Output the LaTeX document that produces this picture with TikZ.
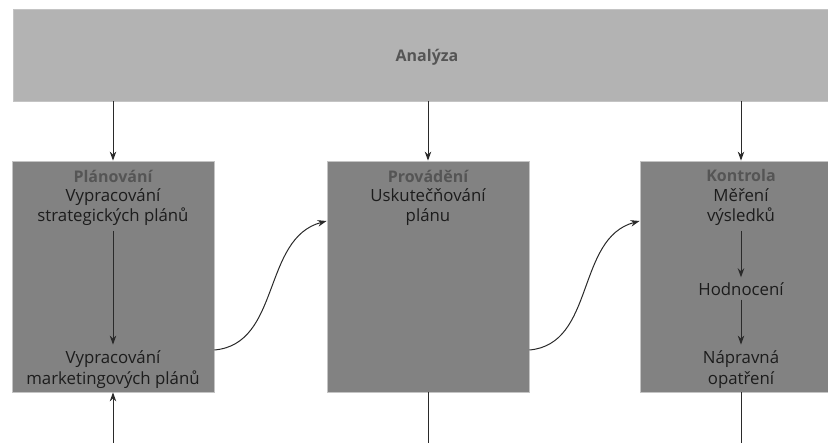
\documentclass[tikz,border=0pt]{standalone}
\usepackage{fontspec}
\setmainfont{Open Sans}
\usepackage{tikz}
\usetikzlibrary{arrows.meta,positioning,calc}
\definecolor{analgray}{HTML}{B3B3B3}
\definecolor{boxgray}{HTML}{828282}
\definecolor{framegray}{HTML}{C4C4C4}
\definecolor{titlegray}{HTML}{555555}
\definecolor{textdark}{HTML}{1C1C1C}
\definecolor{linedark}{HTML}{2A2A2A}

\begin{document}
\begin{tikzpicture}[x=1pt,y=-1pt,
  panel/.style={rectangle,draw=framegray,line width=0.8pt,fill=boxgray,
                minimum width=202pt,minimum height=231pt,inner sep=0pt},
  titel/.style={font=\fontsize{16}{20.5}\selectfont\bfseries,text=titlegray,inner sep=2pt},
  krok/.style={font=\fontsize{16.8}{20.5}\selectfont,text=textdark,align=center,inner sep=3pt},
  pfeil/.style={draw=linedark,line width=1pt,-{Stealth[length=9pt,width=6.5pt]}},
  vedeni/.style={draw=linedark,line width=1pt}]

  \useasboundingbox (0,0) rectangle (828,443);

  \node[rectangle,draw=framegray,line width=0.8pt,fill=analgray,
        minimum width=840pt,minimum height=92pt]
       (analyza) at (433,55) {};
  \node[font=\fontsize{16}{20}\selectfont\bfseries,text=titlegray] (analyzaT) at (427,57) {Analýza};

  \node[panel] (plan) at (113,276.5) {};
  \node[panel] (prov) at (428,276.5) {};
  \node[panel] (kontr) at (741,276.5) {};

  \node[titel] (planT) at (113,176) {Plánování};
  \node[krok] (strat) at (113,207) {Vypracování\\strategických plánů};
  \node[krok] (mark) at (113,369.5) {Vypracování\\marketingových plánů};

  \node[titel] (provT) at (428,176) {Provádění};
  \node[krok] (usk) at (428,207) {Uskutečňování\\plánu};

  \node[titel] (kontrT) at (741,176) {Kontrola};
  \node[krok] (mereni) at (741,207) {Měření\\výsledků};
  \node[krok] (hodn) at (741,289) {Hodnocení};
  \node[krok] (naprava) at (741,369.5) {Nápravná\\opatření};

  \draw[pfeil] (analyza.south -| plan.north) -- (plan.north);
  \draw[pfeil] (analyza.south -| prov.north) -- (prov.north);
  \draw[pfeil] (analyza.south -| kontr.north) -- (kontr.north);

  \draw[pfeil,shorten <=2pt,shorten >=3pt] (strat) -- (mark);
  \draw[pfeil,shorten <=2pt,shorten >=2pt] (mereni) -- (hodn);
  \draw[pfeil,shorten <=1pt,shorten >=3pt] (hodn) -- (naprava);

  \draw[pfeil] ([yshift=-73.5pt]plan.east) to[out=5,in=195] ([yshift=55.5pt]prov.west);
  \draw[pfeil] ([yshift=-73.5pt]prov.east) to[out=5,in=195] ([yshift=55.5pt]kontr.west);

  \path (plan.south |- 0,445) coordinate (planPod)
        (prov.south |- 0,445) coordinate (provPod)
        (kontr.south |- 0,445) coordinate (kontrPod);
  \draw[pfeil] (planPod) -- (plan.south);
  \draw[vedeni] (prov.south) -- (provPod);
  \draw[vedeni] (kontr.south) -- (kontrPod);

\end{tikzpicture}
\end{document}
